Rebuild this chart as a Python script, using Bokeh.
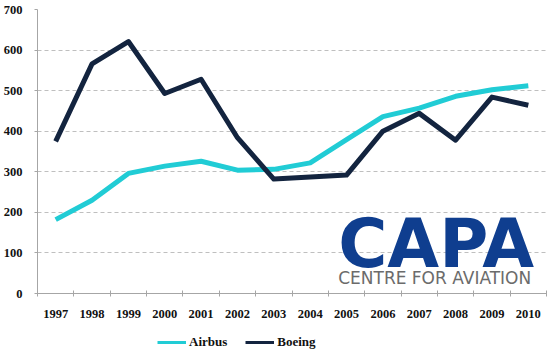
from bokeh.plotting import figure
from bokeh.layouts import column
from bokeh.models import Range1d, FixedTicker, Legend, LegendItem, Label, ColumnDataSource
from bokeh.embed import file_html
from bokeh.resources import INLINE

years = ["1997", "1998", "1999", "2000", "2001", "2002", "2003",
         "2004", "2005", "2006", "2007", "2008", "2009", "2010"]
airbus = [182, 230, 296, 314, 326, 304, 306, 322, 379, 436, 457, 486, 502, 512]
boeing = [375, 566, 621, 493, 528, 384, 282, 287, 292, 400, 444, 378, 484, 464]
y_ticks = [0, 100, 200, 300, 400, 500, 600, 700]

AIRBUS_C = "#21CCD5"
BOEING_C = "#13243F"
SERIF = "Liberation Serif"

idx = list(range(len(years)))
src = ColumnDataSource(dict(x=idx, airbus=airbus, boeing=boeing))

p = figure(width=550, height=320, output_backend="svg", toolbar_location=None,
           x_range=Range1d(-0.5, len(years) - 0.5), y_range=Range1d(0, 700),
           min_border_left=36, min_border_right=4, min_border_top=9, min_border_bottom=27)
p.outline_line_color = None

# x axis: labels at centres, tick marks at category boundaries
p.xaxis.ticker = FixedTicker(ticks=idx, minor_ticks=[i - 0.5 for i in range(len(years) + 1)])
p.xaxis.major_label_overrides = {i: y for i, y in enumerate(years)}
p.xaxis.major_tick_line_color = None
p.xaxis.major_tick_out = 3
p.xaxis.major_tick_in = 0
p.xaxis.minor_tick_out = 3
p.xaxis.minor_tick_in = 3
p.xaxis.minor_tick_line_color = "#A6A6A6"
p.xaxis.axis_line_color = "#A6A6A6"
p.xaxis.major_label_standoff = 13
p.xaxis.major_label_text_font = SERIF
p.xaxis.major_label_text_font_style = "bold"
p.xaxis.major_label_text_font_size = "12.5px"
p.xaxis.major_label_text_color = "#111111"

p.yaxis.ticker = FixedTicker(ticks=y_ticks)
p.yaxis.minor_tick_line_color = None
p.yaxis.major_tick_out = 3
p.yaxis.major_tick_in = 0
p.yaxis.major_tick_line_color = "#A6A6A6"
p.yaxis.axis_line_color = "#A6A6A6"
p.yaxis.major_label_standoff = 12
p.yaxis.major_label_text_font = SERIF
p.yaxis.major_label_text_font_style = "bold"
p.yaxis.major_label_text_font_size = "12.5px"
p.yaxis.major_label_text_color = "#111111"

p.xgrid.grid_line_color = None
p.ygrid.ticker = FixedTicker(ticks=y_ticks[1:])
p.ygrid.grid_line_color = "#BFBFBF"
p.ygrid.grid_line_dash = "4 3"
p.ygrid.grid_line_width = 1.2

p.line("x", "airbus", source=src, line_color=AIRBUS_C, line_width=5, line_join="round")
p.line("x", "boeing", source=src, line_color=BOEING_C, line_width=5, line_join="round")

# CAPA logo
p.add_layout(Label(x=7.77, y=122, text="CAPA", text_font="DejaVu Sans",
                   text_font_style="bold", text_font_size="67px", text_color="#0F3E8F",
                   text_baseline="middle"))
p.add_layout(Label(x=7.77, y=39, text="CENTRE FOR AVIATION", text_font="DejaVu Sans",
                   text_font_size="17px", text_color="#6B6B6B",
                   text_baseline="middle"))

# legend in its own strip below the chart (its lines lie outside the strip's range)
lg = figure(width=550, height=35, output_backend="svg", toolbar_location=None,
            x_axis_location=None, y_axis_location=None,
            x_range=Range1d(-0.5, len(years) - 0.5), y_range=Range1d(-2, -1),
            min_border=0, min_border_left=0, min_border_right=0,
            min_border_top=0, min_border_bottom=0)
lg.grid.visible = False
lg.outline_line_color = None
la = lg.line("x", "airbus", source=src, line_color=AIRBUS_C, line_width=3)
lb = lg.line("x", "boeing", source=src, line_color=BOEING_C, line_width=3)
legend = Legend(items=[LegendItem(label="Airbus", renderers=[la]),
                       LegendItem(label="Boeing", renderers=[lb])],
                orientation="horizontal", location=(120, 5),
                border_line_color=None, background_fill_alpha=0,
                glyph_width=29, glyph_height=14, label_standoff=3, spacing=18,
                padding=0, margin=0,
                label_text_font=SERIF, label_text_font_style="bold",
                label_text_font_size="13px", label_text_color="#111111")
lg.add_layout(legend)

layout = column(p, lg, spacing=0)
open("out.html", "w").write(file_html(layout, INLINE))
